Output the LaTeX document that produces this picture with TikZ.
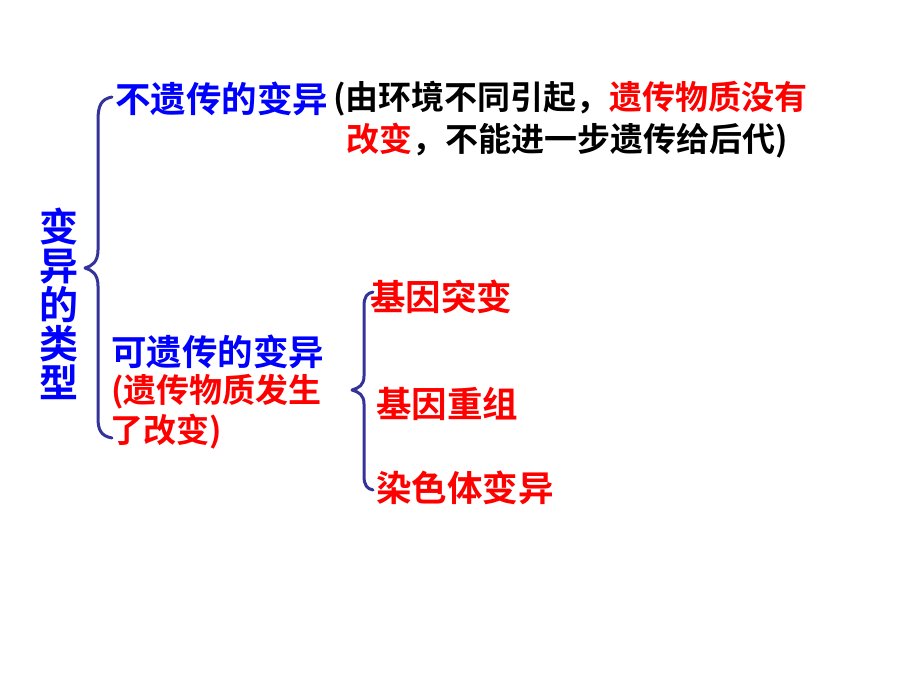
\documentclass[tikz,border=0pt]{standalone}
\usepackage{fontspec}
\newfontfamily\cjk{Noto Sans CJK SC}[BoldFont={Noto Sans CJK SC Bold}]
\definecolor{bracec}{RGB}{51,51,153}
\definecolor{tblue}{RGB}{0,0,255}
\definecolor{tred}{RGB}{255,0,0}
\tikzset{
  brace/.style={draw=bracec, line width=3pt, line cap=round, line join=round},
  lbl/.style={inner sep=0pt, anchor=west, font=\cjk\bfseries\fontsize{35.5}{40}\selectfont},
  note/.style={inner sep=0pt, anchor=west, font=\cjk\bfseries\fontsize{33}{38}\selectfont},
}
\begin{document}
\begin{tikzpicture}[x=1pt,y=-1pt]
\useasboundingbox (0,0) rectangle (920,690);
\fill[white] (0,0) rectangle (920,690);
% vertical title
\node[inner sep=0pt, align=center, text=tblue, font=\cjk\bfseries\fontsize{39}{39}\selectfont] (title) at (59,304) {变\\异\\的\\类\\型};
% big brace
\draw[brace] (112,97) .. controls (101,99) and (98,106) .. (98,120) -- (98,250)
  .. controls (98,262) and (92,266) .. (85,268)
  .. controls (92,270) and (98,274) .. (98,286) -- (98,418)
  .. controls (98,430) and (101,436) .. (112,438);
% upper branch
\node[lbl, text=tblue] (nonher) at (115,99) {不遗传的变异};
\node[note, text=black] (why1) at (333,99) {(由环境不同引起，\textcolor{tred}{遗传物质没有}};
\node[note, text=black] (why2) at (346,141) {\textcolor{tred}{改变}，不能进一步遗传给后代)};
% lower branch
\node[lbl, text=tblue] (her) at (111,352) {可遗传的变异};
\node[note, text=tred] (her2) at (111,392) {(遗传物质发生};
\node[note, text=tred] (her3) at (110,432) {了改变)};
% small brace
\draw[brace] (373,292) .. controls (367,293) and (364,297) .. (364,306) -- (364,376)
  .. controls (364,385) and (359,388) .. (352,390)
  .. controls (359,392) and (364,395) .. (364,404) -- (364,476)
  .. controls (364,485) and (367,489) .. (373,490);
\node[lbl, text=tred] (mut) at (370,297) {基因突变};
\node[lbl, text=tred] (rec) at (376,404) {基因重组};
\node[lbl, text=tred] (chr) at (376,488) {染色体变异};
\end{tikzpicture}
\end{document}
